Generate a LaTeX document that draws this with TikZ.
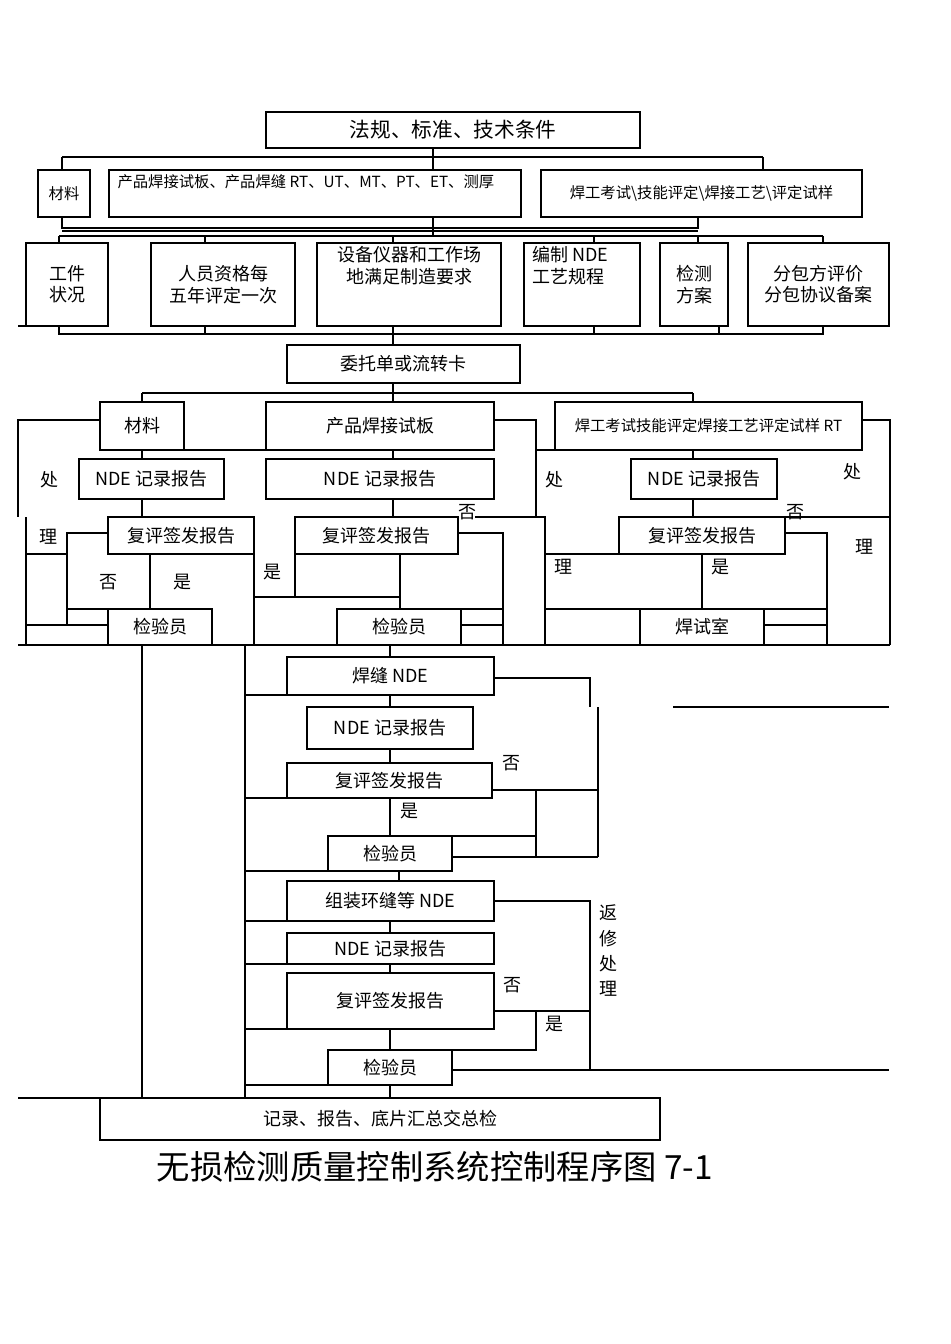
\documentclass[tikz,border=0pt]{standalone}
\usepackage{fontspec}
\setmainfont{Noto Sans CJK SC}
\begin{document}
\begin{tikzpicture}[x=0.75pt,y=-0.75pt,line width=0.8pt,
 box/.style={draw,inner sep=0pt},
 t/.style={font=\fontsize{13.5}{16}\selectfont,inner sep=0pt,align=center},
 ts/.style={font=\fontsize{11.5}{13}\selectfont,inner sep=0pt,align=left}]
\useasboundingbox (0,0) rectangle (950,1344);
\newcommand\B[5]{\node[box,minimum width={(#4-#2)*0.75pt},minimum height={(#5-#3)*0.75pt}] (#1) at ({(#2+#4)/2},{(#3+#5)/2}) {};}
% top
\B{law}{266}{112}{640}{148}
\node[t,font=\fontsize{15.5}{18}\selectfont] at (law) {法规、标准、技术条件};
\draw (433,148)--(433,157) (62,157)--(763,157) (62,157)--(62,170) (433,157)--(433,170) (763,157)--(763,170);
\B{m1}{38}{170}{90}{217} \node[ts] at (m1) {材料};
\B{p1}{109}{170}{521}{217} \node[ts,anchor=north west] at (117,174) {产品焊接试板、产品焊缝 RT、UT、MT、PT、ET、测厚};
\B{w1}{541}{170}{862}{217} \node[ts] at (w1) {焊工考试\textbackslash 技能评定\textbackslash 焊接工艺\textbackslash 评定试样};
\draw (62,217)--(62,228)--(698,228)--(698,217) (62,231)--(698,231);
\draw (433,217)--(433,236) (59,236)--(823,236);
\foreach \x in {59,205,393,594,698,823} \draw (\x,236)--(\x,243);
\B{r1}{26}{243}{108}{326} \node[t] at (r1) {工件\\状况};
\draw (18,326)--(26,326);
\B{r2}{151}{243}{295}{326} \node[t] at (r2) {人员资格每\\五年评定一次};
\B{r3}{317}{243}{501}{326} \node[t,anchor=north] at (409,246) {设备仪器和工作场\\地满足制造要求};
\B{r4}{524}{243}{640}{326} \node[t,align=left,anchor=north west] at (532,246) {编制 NDE\\工艺规程};
\B{r5}{660}{243}{728}{326} \node[t] at (r5) {检测\\方案};
\B{r6}{748}{243}{889}{326} \node[t] at (r6) {分包方评价\\分包协议备案};
\draw (59,326)--(59,334)--(823,334)--(823,326);
\foreach \x in {205,594,719} \draw (\x,326)--(\x,334);
\draw (393,326)--(393,345);
\B{wt}{287}{345}{520}{383} \node[t] at (wt) {委托单或流转卡};
% middle
\draw (393,383)--(393,402) (142,393)--(693,393) (142,393)--(142,402) (693,393)--(693,402);
\B{m2}{100}{402}{184}{450} \node[t] at (m2) {材料};
\B{p2}{266}{402}{494}{450} \node[t] at (p2) {产品焊接试板};
\B{w2}{555}{402}{862}{450} \node[t,font=\fontsize{11.5}{13}\selectfont] at (w2) {焊工考试技能评定焊接工艺评定试样 RT};
\draw (100,420)--(18,420)--(18,517);
\draw (184,450)--(266,450);
\draw (142,450)--(142,459);
\B{n1}{79}{459}{224}{499} \node[t] at (n1) {NDE 记录报告};
\draw (142,499)--(142,517);
\B{f1}{108}{517}{254}{554} \node[t] at (f1) {复评签发报告};
\node[t] at (49,480) {处}; \node[t] at (48,537) {理};
\draw (26,517)--(26,645) (26,554)--(67,554) (108,533)--(67,533)--(67,625);
\node[t] at (108,582) {否}; \node[t] at (182,582) {是};
\draw (150,554)--(150,609) (67,609)--(108,609) (26,625)--(108,625);
\B{k1}{108}{609}{212}{645} \node[t] at (k1) {检验员};
\draw (254,517)--(254,645);
\node[t] at (272,572) {是};
\draw (254,597)--(400,597);
\draw (393,450)--(393,459);
\B{n2}{266}{459}{494}{499} \node[t] at (n2) {NDE 记录报告};
\draw (393,499)--(393,517);
\B{f2}{295}{517}{458}{554} \node[t] at (f2) {复评签发报告};
\draw (295,554)--(295,597) (400,554)--(400,609);
\B{k2}{337}{609}{461}{645} \node[t] at (k2) {检验员};
\draw (458,533)--(503,533)--(503,645) (461,609)--(503,609) (461,625)--(503,625);
\node[t] at (467,512) {否};
\draw (494,420)--(536,420)--(536,517) (475,517)--(545,517)--(545,645);
\draw (536,450)--(555,450);
\draw (693,450)--(693,459);
\B{n3}{631}{459}{777}{499} \node[t] at (n3) {NDE 记录报告};
\draw (693,499)--(693,517);
\B{f3}{619}{517}{785}{554} \node[t] at (f3) {复评签发报告};
\node[t] at (554,480) {处}; \node[t] at (852,472) {处}; \node[t] at (795,512) {否};
\node[t] at (563,567) {理}; \node[t] at (720,567) {是}; \node[t] at (864,547) {理};
\draw (545,554)--(619,554) (702,554)--(702,609) (545,609)--(640,609) (764,609)--(827,609);
\B{hs}{640}{609}{764}{645} \node[t] at (hs) {焊试室};
\draw (785,533)--(827,533)--(827,645) (764,625)--(827,625);
\draw (862,420)--(890,420)--(890,645) (785,517)--(890,517);
\draw (18,645)--(890,645);
% lower
\draw (142,645)--(142,1098) (245,645)--(245,1098) (390,645)--(390,657);
\B{h1}{287}{657}{494}{695} \node[t] at (h1) {焊缝 NDE};
\draw (245,695)--(287,695) (494,678)--(590,678)--(590,707) (598,707)--(598,857) (673,707)--(889,707);
\draw (390,695)--(390,707);
\B{n4}{307}{707}{473}{749} \node[t] at (n4) {NDE 记录报告};
\draw (390,749)--(390,763);
\B{f4}{287}{763}{492}{798} \node[t] at (f4) {复评签发报告};
\node[t] at (511,763) {否}; \node[t] at (409,811) {是};
\draw (245,798)--(287,798) (492,790)--(598,790) (536,790)--(536,857) (390,798)--(390,836);
\B{k4}{328}{836}{452}{871} \node[t] at (k4) {检验员};
\draw (452,836)--(536,836) (452,857)--(598,857) (245,871)--(328,871) (399,871)--(399,881);
\B{z1}{287}{881}{494}{921} \node[t] at (z1) {组装环缝等 NDE};
\draw (245,921)--(287,921) (494,901)--(590,901)--(590,1070);
\node[t] at (608,913) {返}; \node[t] at (608,939) {修}; \node[t] at (608,964) {处}; \node[t] at (608,989) {理};
\draw (390,921)--(390,933);
\B{n5}{287}{933}{494}{964} \node[t] at (n5) {NDE 记录报告};
\draw (245,964)--(287,964) (390,964)--(390,973);
\B{f5}{287}{973}{494}{1029} \node[t] at (f5) {复评签发报告};
\node[t] at (512,985) {否}; \node[t] at (554,1024) {是};
\draw (245,1029)--(287,1029) (494,1011)--(590,1011) (536,1011)--(536,1050)--(452,1050) (390,1029)--(390,1050);
\B{k5}{328}{1050}{452}{1085} \node[t] at (k5) {检验员};
\draw (452,1070)--(889,1070) (245,1085)--(328,1085) (390,1085)--(390,1098);
\draw (18,1098)--(660,1098);
\B{jl}{100}{1098}{660}{1140} \node[t] at (jl) {记录、报告、底片汇总交总检};
\node[inner sep=0pt,font=\fontsize{25}{28}\selectfont] at (435,1167) {无损检测质量控制系统控制程序图 7-1};
\end{tikzpicture}
\end{document}
